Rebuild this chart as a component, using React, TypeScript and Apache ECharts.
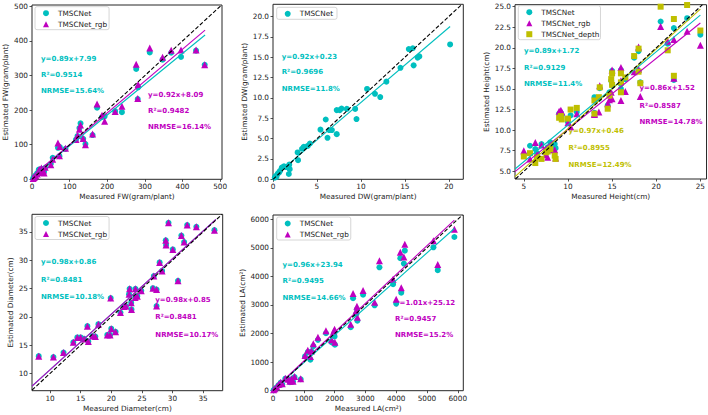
import React, { useEffect, useRef } from "react";
import * as echarts from "echarts";

const CYAN = "#00bfbf";
const MAGENTA = "#bf00bf";
const OLIVE = "#bfbf00";
const FONT = "'DejaVu Sans', sans-serif";
const INK = "#222222";

// ---------- FW ----------
const fwMeasured = [459,436,396,370,347,313,281,282,277,239,221,193,186,173,161,142,136,129,126,121,117,89,73,69,74,55,50,35,30,27,25,22,18,14,10,6,3,20,32];
const fwTMSCNet = [331,372,354,366,346,367,232,266,319,194,197,182,180,207,128,102,117,162,148,125,115,88,67,91,93,62,45,33,30,24,30,18,28,18,12,7,3,22,22];
const fwRgb = [331,374,374,373,353,380,234,274,333,211,196,168,185,218,131,100,118,157,145,127,115,90,68,105,95,58,42,35,25,20,33,22,26,15,10,5,2,28,18];
const fwFitTMSCNet = [0.89, 7.99];
const fwFitRgb = [0.92, 8.09];
const fwR2 = ["0.9514", "0.9482"];
const fwNrmse = ["15.64%", "16.14%"];
const fwTicks = [0, 100, 200, 300, 400, 500];

// ---------- DW ----------
const dwMeasured = [20.15,16.65,16.45,16.0,15.45,15.9,14.5,12.9,12.2,11.6,10.7,9.5,9.35,8.4,7.8,7.6,7.25,7.25,6.7,6.4,6.2,6.0,5.4,4.2,3.95,3.5,3.3,2.8,2.85,1.9,1.8,1.85,1.25,1.0,0.8,0.55,0.3,0.2,0.7,0.4,1.5];
const dwTMSCNet = [16.57,15.1,14.95,14.0,16.0,16.1,13.7,12.0,10.1,10.5,11.1,7.4,8.65,8.65,8.7,8.5,8.5,5.55,6.05,6.05,5.1,7.35,6.1,4.4,4.1,4.0,3.75,3.3,2.35,1.25,0.65,1.8,1.6,1.45,1.05,0.7,0.4,0.2,0.85,0.3,1.5];
const dwFitTMSCNet = [0.92, 0.23];
const dwR2 = ["0.9696"];
const dwNrmse = ["11.8%"];
const dwXTicks = [0, 5, 10, 15, 20];
const dwYTicks = [0, 2.5, 5, 7.5, 10, 12.5, 15, 17.5, 20];

// ---------- Height ----------
const htMeasured = [5.0,5.7,6.3,6.5,7.0,7.5,7.7,8.0,8.5,8.6,9.0,9.2,9.3,10.0,10.3,11.0,13.0,13.0,13.5,13.6,14.5,15.0,14.9,15.0,14.7,16.0,16.0,16.0,16.5,17.5,18.0,18.0,18.2,20.5,21.3,22.0,22.0,23.5,25.0];
const htTMSCNet = [7.0,8.1,7.7,7.2,8.3,7.5,7.9,8.5,8.3,7.8,12.0,12.1,11.8,11.0,11.8,12.2,14.0,12.1,13.8,15.1,13.0,17.2,16.0,15.5,14.6,17.3,15.6,15.0,16.2,18.8,19.6,17.2,15.8,23.2,20.5,22.4,16.1,23.6,21.6];
const htRgb = [7.5,6.5,8.5,7.0,8.2,7.0,6.7,7.6,7.6,6.6,12.3,12.4,12.2,10.9,10.4,12.0,11.9,12.0,12.2,15.4,13.2,17.3,14.6,13.8,13.7,17.6,13.6,16.0,14.7,17.1,20.1,17.4,14.1,22.6,20.8,21.0,16.3,22.0,20.3];
const htDepth = [6.8,7.2,6.0,6.7,6.5,7.3,7.4,7.7,6.9,6.5,11.5,11.7,11.3,11.4,12.5,12.7,13.6,12.0,14.0,15.2,12.6,16.9,16.2,15.5,14.2,16.9,15.8,14.6,16.4,19.0,19.9,17.1,15.7,25.0,19.7,23.5,16.6,25.2,22.1];
const htFitTMSCNet = [0.89, 1.72];
const htFitRgb = [0.86, 1.52];
const htFitDepth = [0.97, 0.46];
const htR2 = ["0.9129", "0.8587", "0.8955"];
const htNrmse = ["11.4%", "14.78%", "12.49%"];
const htXTicks = [5, 10, 15, 20, 25];
const htYTicks = [5, 7.5, 10, 12.5, 15, 17.5, 20, 22.5, 25];

// ---------- Diameter ----------
const diaMeasured = [8.15,10.55,12.2,13.8,14.45,15.0,15.55,16.25,16.1,16.95,17.4,17.9,19.35,19.8,20.0,19.9,20.7,21.5,22.1,22.4,23.0,22.9,23.25,23.3,23.95,23.9,24.25,24.9,26.8,27.4,27.4,26.95,27.9,28.3,28.95,28.9,29.35,30.05,30.9,31.45,31.9,32.4,33.9,36.85];
const diaTMSCNet = [13.05,12.9,13.7,15.5,16.35,16.35,16.1,15.65,18.35,16.6,16.5,18.7,16.8,16.8,17.9,23.3,17.35,20.75,21.8,21.9,24.95,24.0,22.5,21.3,24.95,23.4,23.65,24.6,25.05,24.8,21.9,27.2,29.6,28.1,32.7,33.5,36.6,31.9,26.35,34.35,33.2,36.2,35.9,35.3];
const diaRgb = [13.05,12.9,13.7,15.5,16.35,16.35,16.1,15.65,18.35,16.6,16.5,18.7,16.8,16.8,17.9,23.3,17.35,20.75,21.8,21.9,24.95,24.0,22.5,21.3,24.95,23.4,23.65,24.6,25.05,24.8,21.9,27.2,29.6,28.1,32.7,33.5,36.6,31.9,26.35,34.35,33.2,36.2,35.9,35.3];
const diaFitTMSCNet = [0.98, 0.86];
const diaFitRgb = [0.98, 0.85];
const diaR2 = ["0.8481", "0.8481"];
const diaNrmse = ["10.18%", "10.17%"];
const diaTicks = [10, 15, 20, 25, 30, 35];

// ---------- LA ----------
const laMeasured = [5890,5210,5350,4280,4135,4250,4165,3900,4000,3456,3300,2925,2600,2740,2725,2700,2524,2010,1970,1900,2000,1720,1460,1310,1213,1130,1250,1040,900,700,650,600,550,500,400,250,180,120,60,20,300];
const laTMSCNet = [5380,5020,4220,4900,4640,4450,3430,3730,3050,4320,2990,3360,3240,2450,2850,2680,2220,1610,1950,1700,1900,2010,1780,1560,1085,1350,1380,1200,400,480,320,400,300,380,420,280,200,120,60,20,220];
const laRgb = [5650,5250,4420,5130,4850,4680,3600,3900,3200,4550,3100,3510,3400,2570,2960,2800,2330,1700,2080,1780,2150,2100,1870,1640,1200,1420,1390,1230,420,500,330,420,330,400,440,300,220,140,70,30,240];
const laFitTMSCNet = [0.96, 23.94];
const laFitRgb = [1.01, 25.12];
const laR2 = ["0.9495", "0.9457"];
const laNrmse = ["14.66%", "15.2%"];
const laTicks = [0, 1000, 2000, 3000, 4000, 5000, 6000];

type SDef = {
  name: string; color: string; symbol: string; size: number;
  est: number[]; fit: number[]; r2: string; nrmse: string;
  tx: number; ty: number[];
};
type PDef = {
  grid: { left: number; top: number; width: number; height: number };
  xRange: [number, number]; yRange: [number, number];
  xTicks: number[]; yTicks: number[]; yDec: number;
  xName: string; yName: string; yNameGap: number; xNameGap: number;
  measured: number[]; fitX: [number, number];
  legend: { left: number; top: number; padRight: number };
  series: SDef[];
};

const panels: PDef[] = [
  {
    grid: { left: 32, top: 5, width: 190, height: 174.3 },
    xRange: [0, 505], yRange: [0, 504], xTicks: fwTicks, yTicks: fwTicks, yDec: 0,
    xName: "Measured FW(gram/plant)", yName: "Estimated FW(gram/plant)", yNameGap: 23, xNameGap: 13.5,
    measured: fwMeasured, fitX: [0, 460],
    legend: { left: 35, top: 6.7, padRight: 2 },
    series: [
      { name: "TMSCNet", color: CYAN, symbol: "circle", size: 6, est: fwTMSCNet, fit: fwFitTMSCNet, r2: fwR2[0], nrmse: fwNrmse[0], tx: 41, ty: [58.5, 74.5, 90.5] },
      { name: "TMSCNet_rgb", color: MAGENTA, symbol: "triangle", size: 7, est: fwRgb, fit: fwFitRgb, r2: fwR2[1], nrmse: fwNrmse[1], tx: 148, ty: [95, 110.5, 127] },
    ],
  },
  {
    grid: { left: 273, top: 4.3, width: 190.3, height: 175 },
    xRange: [0, 21.65], yRange: [0, 21.5], xTicks: dwXTicks, yTicks: dwYTicks, yDec: 1,
    xName: "Measured DW(gram/plant)", yName: "Estimated DW(gram/plant)", yNameGap: 25, xNameGap: 13.5,
    measured: dwMeasured, fitX: [0, 20.15],
    legend: { left: 276.7, top: 7.3, padRight: 4 },
    series: [
      { name: "TMSCNet", color: CYAN, symbol: "circle", size: 6, est: dwTMSCNet, fit: dwFitTMSCNet, r2: dwR2[0], nrmse: dwNrmse[0], tx: 281.7, ty: [56.7, 72.3, 89] },
    ],
  },
  {
    grid: { left: 515, top: 4.7, width: 192, height: 174.3 },
    xRange: [4.0, 25.7], yRange: [4.06, 25.24], xTicks: htXTicks, yTicks: htYTicks, yDec: 1,
    xName: "Measured Height(cm)", yName: "Estimated Height(cm)", yNameGap: 25, xNameGap: 13.5,
    measured: htMeasured, fitX: [4.0, 25],
    legend: { left: 518.3, top: 5.7, padRight: 1 },
    series: [
      { name: "TMSCNet", color: CYAN, symbol: "circle", size: 6, est: htTMSCNet, fit: htFitTMSCNet, r2: htR2[0], nrmse: htNrmse[0], tx: 524, ty: [51.3, 67.7, 84] },
      { name: "TMSCNet_rgb", color: MAGENTA, symbol: "triangle", size: 7, est: htRgb, fit: htFitRgb, r2: htR2[1], nrmse: htNrmse[1], tx: 639.5, ty: [88, 105.5, 122] },
      { name: "TMSCNet_depth", color: OLIVE, symbol: "rect", size: 6, est: htDepth, fit: htFitDepth, r2: htR2[2], nrmse: htNrmse[2], tx: 568.5, ty: [130.5, 148, 165.3] },
    ],
  },
  {
    grid: { left: 32, top: 214.3, width: 190.7, height: 176.4 },
    xRange: [7.05, 38.2], yRange: [6.95, 38.1], xTicks: diaTicks, yTicks: diaTicks, yDec: 0,
    xName: "Measured Diameter(cm)", yName: "Estimated Diameter(cm)", yNameGap: 18.5, xNameGap: 14.5,
    measured: diaMeasured, fitX: [7.05, 37.1],
    legend: { left: 35, top: 216.5, padRight: 2 },
    series: [
      { name: "TMSCNet", color: CYAN, symbol: "circle", size: 6, est: diaTMSCNet, fit: diaFitTMSCNet, r2: diaR2[0], nrmse: diaNrmse[0], tx: 41, ty: [262.3, 279.5, 296.7] },
      { name: "TMSCNet_rgb", color: MAGENTA, symbol: "triangle", size: 7, est: diaRgb, fit: diaFitRgb, r2: diaR2[1], nrmse: diaNrmse[1], tx: 155.3, ty: [299.7, 317, 334.5] },
    ],
  },
  {
    grid: { left: 273, top: 215, width: 190.3, height: 175.7 },
    xRange: [0, 6180], yRange: [0, 6150], xTicks: laTicks, yTicks: laTicks, yDec: 0,
    xName: "Measured LA(cm²)", yName: "Estimated LA(cm²)", yNameGap: 27, xNameGap: 14.5,
    measured: laMeasured, fitX: [0, 5890],
    legend: { left: 276.7, top: 217, padRight: 2 },
    series: [
      { name: "TMSCNet", color: CYAN, symbol: "circle", size: 6, est: laTMSCNet, fit: laFitTMSCNet, r2: laR2[0], nrmse: laNrmse[0], tx: 282.5, ty: [264.7, 281.3, 298] },
      { name: "TMSCNet_rgb", color: MAGENTA, symbol: "triangle", size: 7, est: laRgb, fit: laFitRgb, r2: laR2[1], nrmse: laNrmse[1], tx: 395, ty: [302.7, 318.8, 335.2] },
    ],
  },
];

function fmt(v: number, dec: number) {
  return v.toFixed(dec);
}

function buildOption() {
  const textStyle = { fontSize: 7.3, fontFamily: FONT, color: INK };
  const grid: any[] = [];
  const xAxis: any[] = [];
  const yAxis: any[] = [];
  const series: any[] = [];
  const legend: any[] = [];
  const graphic: any[] = [];

  panels.forEach((p, i) => {
    grid.push({ ...p.grid, show: true, borderColor: "#262626", borderWidth: 1, backgroundColor: "transparent" });
    xAxis.push({
      type: "value", gridIndex: i, min: p.xRange[0], max: p.xRange[1],
      name: p.xName, nameLocation: "middle", nameGap: p.xNameGap, nameTextStyle: textStyle,
      axisLine: { show: false }, splitLine: { show: false },
      axisTick: { show: true, length: 2.5, lineStyle: { color: "#262626", width: 0.8 }, customValues: p.xTicks },
      axisLabel: { ...textStyle, margin: 4, customValues: p.xTicks, formatter: (v: number) => fmt(v, 0) },
    });
    yAxis.push({
      type: "value", gridIndex: i, min: p.yRange[0], max: p.yRange[1],
      name: p.yName, nameLocation: "middle", nameGap: p.yNameGap, nameTextStyle: textStyle,
      axisLine: { show: false }, splitLine: { show: false },
      axisTick: { show: true, length: 2.5, lineStyle: { color: "#262626", width: 0.8 }, customValues: p.yTicks },
      axisLabel: { ...textStyle, margin: 4, customValues: p.yTicks, formatter: (v: number) => fmt(v, p.yDec) },
    });

    p.series.forEach((s) => {
      series.push({
        type: "scatter", name: s.name, xAxisIndex: i, yAxisIndex: i,
        data: p.measured.map((x, k) => [x, s.est[k]]),
        symbol: s.symbol, symbolSize: s.size, itemStyle: { color: s.color, opacity: 1 },
        z: 2, silent: true,
      });
    });
    p.series.forEach((s, j) => {
      const [a, b] = s.fit;
      series.push({
        type: "line", name: `fit-${i}-${j}`, xAxisIndex: i, yAxisIndex: i,
        data: [[p.fitX[0], a * p.fitX[0] + b], [p.fitX[1], a * p.fitX[1] + b]],
        symbol: "none", lineStyle: { color: s.color, width: 1.1 }, z: 3, silent: true, clip: true,
      });
    });
    const lo = Math.max(p.xRange[0], p.yRange[0]);
    const hi = Math.min(p.xRange[1], p.yRange[1]);
    series.push({
      type: "line", name: `identity-${i}`, xAxisIndex: i, yAxisIndex: i,
      data: [[lo, lo], [hi, hi]],
      symbol: "none", lineStyle: { color: "#000", width: 1.1, type: [4, 2] }, z: 4, silent: true, clip: true,
    });

    legend.push({
      left: p.legend.left, top: p.legend.top, orient: "vertical",
      data: p.series.map((s) => s.name),
      itemWidth: 6, itemHeight: 6, itemGap: 2,
      padding: [2, p.legend.padRight, 1, 8],
      borderColor: "#cccccc", borderWidth: 0.8, borderRadius: 2,
      backgroundColor: "rgba(255,255,255,0.8)",
      textStyle: { ...textStyle, lineHeight: 9, padding: [0, 0, 0, 4] },
      selectedMode: false,
      z: 5,
    });

    p.series.forEach((s) => {
      const lines = [
        `y=${s.fit[0]}x+${s.fit[1]}`,
        `R²=${s.r2}`,
        `NRMSE=${s.nrmse}`,
      ];
      lines.forEach((t, k) => {
        graphic.push({
          type: "text", x: s.tx, y: s.ty[k], z: 1, silent: true,
          style: { text: t, fill: s.color, font: `bold 7px ${FONT}`, verticalAlign: "middle", align: "left" },
        });
      });
    });
  });

  return {
    animation: false,
    backgroundColor: "#ffffff",
    grid, xAxis, yAxis, series, legend, graphic,
  };
}

export default function App() {
  const ref = useRef<HTMLDivElement>(null);
  useEffect(() => {
    if (!ref.current) return;
    const chart = echarts.init(ref.current, undefined, { renderer: "svg" });
    chart.setOption(buildOption() as any);
    return () => chart.dispose();
  }, []);
  return (
    <div
      ref={ref}
      style={{ position: "fixed", left: 0, top: 0, width: 708, height: 415, background: "#fff" }}
    />
  );
}
